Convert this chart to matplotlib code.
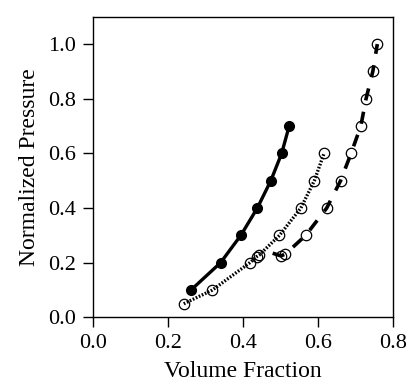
import matplotlib
matplotlib.use("Agg")
import matplotlib.pyplot as plt

# filled circles, solid line
solid_x = [0.262, 0.341, 0.395, 0.439, 0.475, 0.504, 0.524]
solid_y = [0.10, 0.20, 0.30, 0.40, 0.50, 0.60, 0.70]

# open circles, dotted line
dot_x = [0.243, 0.319, 0.419, 0.437, 0.444, 0.498, 0.555, 0.591, 0.617]
dot_y = [0.05, 0.10, 0.20, 0.222, 0.228, 0.30, 0.40, 0.50, 0.60]

# open circles, dashed line (first vertex has no marker)
dash_x = [0.480, 0.502, 0.514, 0.568, 0.624, 0.661, 0.689, 0.715, 0.729, 0.747, 0.759]
dash_y = [0.235, 0.225, 0.232, 0.30, 0.40, 0.50, 0.60, 0.70, 0.80, 0.90, 1.00]

plt.rcParams['font.family'] = ['Liberation Serif', 'DejaVu Serif']
plt.rcParams['font.size'] = 16

fig = plt.figure(figsize=(4.08, 3.89), dpi=100)
ax = fig.add_axes([0.227, 0.184, 0.7355, 0.773])

ax.plot(solid_x, solid_y, '-', color='black', lw=2.4, marker='o', ms=7,
        mfc='black', mec='black', zorder=3)
ax.plot(dot_x, dot_y, color='black', lw=2.4, dashes=(0.5, 0.5), marker='o', ms=7.5,
        mfc='none', mec='black', mew=0.9, zorder=2)
ax.plot(dash_x, dash_y, color='black', lw=2.6, dashes=(3.4, 3.2),
        marker='o', ms=7.5, mfc='none', mec='black', mew=0.9,
        markevery=list(range(1, len(dash_x))), zorder=2)

ax.set_xlim(0, 0.8)
ax.set_ylim(0, 1.1)
ax.set_xticks([0.0, 0.2, 0.4, 0.6, 0.8])
ax.set_yticks([0.0, 0.2, 0.4, 0.6, 0.8, 1.0])
ax.xaxis.set_major_formatter(matplotlib.ticker.FormatStrFormatter('%.1f'))
ax.yaxis.set_major_formatter(matplotlib.ticker.FormatStrFormatter('%.1f'))
ax.tick_params(direction='out', length=7, width=1, pad=5)
for s in ax.spines.values():
    s.set_linewidth(1)
ax.set_xlabel('Volume Fraction', fontsize=17, labelpad=6)
ax.set_ylabel('Normalized Pressure', fontsize=17, labelpad=6)

fig.savefig('out.png', dpi=100)
